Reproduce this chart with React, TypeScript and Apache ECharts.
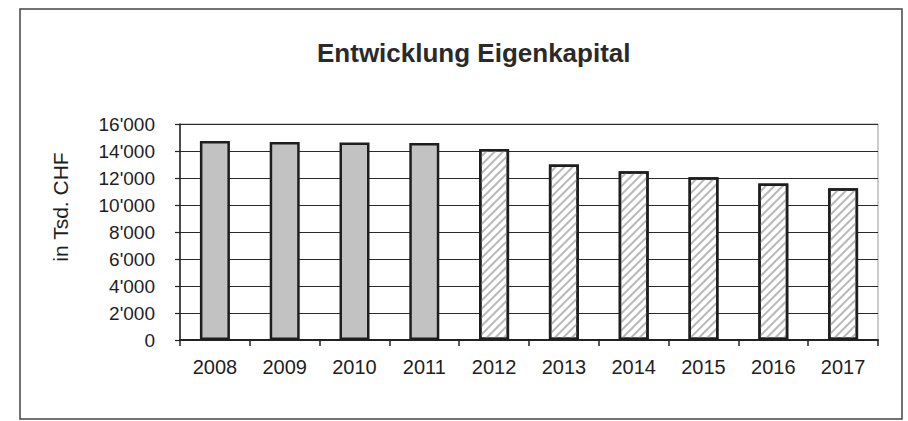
import React, { useEffect, useRef } from "react";
import * as echarts from "echarts";

const categories = ["2008", "2009", "2010", "2011", "2012", "2013", "2014", "2015", "2016", "2017"];
const values = [14750, 14670, 14630, 14600, 14150, 13000, 12500, 12050, 11600, 11250];
const isForecast = [false, false, false, false, true, true, true, true, true, true];
const titleText = "Entwicklung Eigenkapital";
const yAxisTitle = "in Tsd. CHF";

function fmt(v: number): string {
  if (v === 0) return "0";
  const s = String(v);
  return s.slice(0, s.length - 3) + "'" + s.slice(s.length - 3);
}

export default function App() {
  const ref = useRef<HTMLDivElement>(null);
  useEffect(() => {
    if (!ref.current) return;
    const chart = echarts.init(ref.current, null, { renderer: "svg" });
    const data = values.map((v, i) =>
      isForecast[i]
        ? {
            value: v,
            itemStyle: {
              color: "#ffffff",
              borderColor: "#1e1e1e",
              borderWidth: 2.5,
              decal: {
                symbol: "rect",
                symbolSize: 1,
                color: "#b8b8b8",
                dashArrayX: [1, 0],
                dashArrayY: [2, 4],
                rotation: -Math.PI / 4,
              },
            },
          }
        : {
            value: v,
            itemStyle: { color: "#c2c2c2", borderColor: "#1e1e1e", borderWidth: 2.5 },
          }
    );
    chart.setOption({
      animation: false,
      backgroundColor: "#ffffff",
      title: {
        text: titleText,
        left: 312,
        top: 35,
        textStyle: {
          fontFamily: "Liberation Sans, Arial, sans-serif",
          fontWeight: "bold",
          fontSize: 26,
          color: "#2a2a2a",
        },
      },
      grid: {
        left: 180,
        right: 30,
        top: 124,
        bottom: 81,
        show: true,
        borderColor: "#9a9a9a",
        borderWidth: 1,
      },
      xAxis: {
        type: "category",
        data: categories,
        axisLine: { show: true, lineStyle: { color: "#222", width: 2 } },
        axisTick: { show: true, length: 6, lineStyle: { color: "#222", width: 1.5 } },
        axisLabel: {
          margin: 17,
          fontSize: 20,
          color: "#1e1e1e",
          fontFamily: "Liberation Sans, Arial, sans-serif",
        },
      },
      yAxis: {
        type: "value",
        min: 0,
        max: 16000,
        interval: 2000,
        axisLine: { show: true, lineStyle: { color: "#222", width: 1.5 } },
        axisTick: { show: true, length: 5, lineStyle: { color: "#222", width: 1.2 } },
        axisLabel: {
          margin: 25,
          fontSize: 19,
          color: "#1e1e1e",
          fontFamily: "Liberation Sans, Arial, sans-serif",
          formatter: (v: number) => fmt(v),
        },
        splitLine: { show: true, lineStyle: { color: "#2a2a2a", width: 1 } },
      },
      graphic: [
        {
          type: "rect",
          shape: { x: 20, y: 9, width: 882, height: 410 },
          style: { fill: "none", stroke: "#444", lineWidth: 1.5 },
          silent: true,
          z: -1,
        },
        {
          type: "text",
          x: 60,
          y: 207,
          rotation: Math.PI / 2,
          style: {
            text: yAxisTitle,
            fontSize: 21,
            fontFamily: "Liberation Sans, Arial, sans-serif",
            fill: "#1e1e1e",
            textAlign: "center",
            textVerticalAlign: "middle",
          },
        },
      ],
      series: [
        {
          type: "bar",
          data,
          barWidth: 30,
        },
      ],
    });
    return () => chart.dispose();
  }, []);
  return (
    <div
      ref={ref}
      style={{ position: "fixed", left: 0, top: 0, width: 908, height: 421 }}
    />
  );
}
